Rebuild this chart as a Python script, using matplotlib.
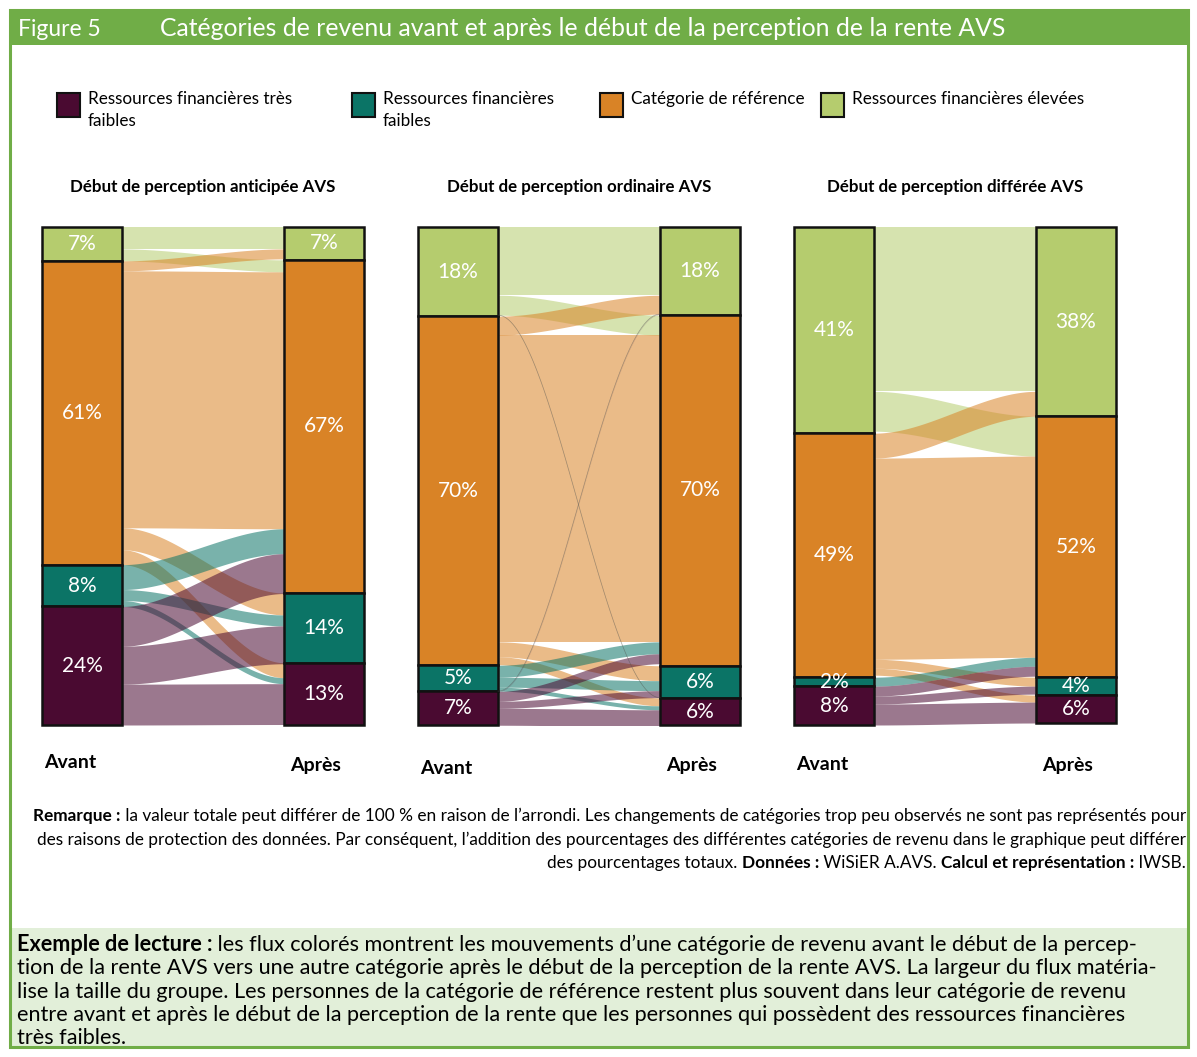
import numpy as np
import matplotlib
matplotlib.use('Agg')
import matplotlib.pyplot as plt
from matplotlib.patches import Rectangle

plt.rcParams['font.family'] = ['Lato', 'DejaVu Sans']

W, H = 1197, 1057

# categories from top to bottom of each column
categories = ['Ressources financières élevées', 'Catégorie de référence',
              'Ressources financières faibles', 'Ressources financières très faibles']
colors = ['#B5CC6E', '#D98326', '#0B7466', '#4A0A31']

panel_titles = ['Début de perception anticipée AVS',
                'Début de perception ordinaire AVS',
                'Début de perception différée AVS']

# node sizes (% of people), before / after the start of the AVS pension
nodes_before = [[6.8, 61.0, 8.4, 23.8],
                [17.9, 70.1, 5.2, 6.8],
                [41.4, 49.0, 1.8, 7.8]]
nodes_after = [[6.6, 66.9, 14.0, 12.6],
               [17.7, 70.4, 6.4, 5.6],
               [38.0, 52.4, 3.6, 5.6]]

# flows: rows = category before, columns = category after (%)
flows_anticipee = [[4.4, 2.4, 0, 0],
                   [2.0, 51.6, 4.4, 3.0],
                   [0, 5.0, 2.2, 1.2],
                   [0, 8.0, 7.6, 8.2]]
flows_ordinaire = [[13.7, 4.0, 0, 0.05],
                   [3.8, 61.6, 3.0, 1.6],
                   [0, 2.4, 2.0, 0.8],
                   [0.05, 2.0, 1.4, 3.4]]
flows_differee = [[33.0, 8.0, 0, 0],
                  [5.0, 40.4, 1.8, 1.4],
                  [0, 1.8, 0, 0],
                  [0, 2.0, 1.6, 4.2]]
all_flows = [flows_anticipee, flows_ordinaire, flows_differee]

legend_labels = ['Ressources financières très\nfaibles', 'Ressources financières\nfaibles',
                 'Catégorie de référence', 'Ressources financières élevées']
legend_colors = [colors[3], colors[2], colors[1], colors[0]]

GREEN = '#70AD47'


def fx(x):
    return x / W


def fy(y):
    return 1 - y / H


fig = plt.figure(figsize=(W / 100, H / 100), dpi=100)
renderer = fig.canvas.get_renderer()

# frame, header, bottom box
fig.add_artist(Rectangle((fx(10), fy(1047)), fx(1188) - fx(10), fy(928) - fy(1047),
                         transform=fig.transFigure, fc='#E2EFD9', ec='none'))
fig.add_artist(Rectangle((fx(10), fy(45)), fx(1188) - fx(10), fy(10) - fy(45),
                         transform=fig.transFigure, fc=GREEN, ec='none'))
fig.add_artist(Rectangle((fx(10), fy(1047)), fx(1188) - fx(10), fy(10) - fy(1047),
                         transform=fig.transFigure, fill=False, ec=GREEN, lw=2.2))
fig.text(fx(18), fy(29), 'Figure 5', color='white', fontsize=16.5, va='center')
fig.text(fx(160), fy(29), 'Catégories de revenu avant et après le début de la perception de la rente AVS',
         color='white', fontsize=17.8, va='center')

# legend
leg_x = [57, 352, 600, 821]
for lx, lab, col in zip(leg_x, legend_labels, legend_colors):
    fig.add_artist(Rectangle((fx(lx), fy(117)), fx(23), fy(93) - fy(117),
                             transform=fig.transFigure, fc=col, ec='#111111', lw=1.5))
    fig.text(fx(lx + 31), fy(91), lab, fontsize=12.3, va='top', linespacing=1.5)

# sankey panels
panel_x = [42, 418, 794]
avant_y = [763, 768, 764]
bar_w = 80
pw = 322
t = np.linspace(0, 1, 120)
s = 3 * t ** 2 - 2 * t ** 3
for p in range(3):
    ax = fig.add_axes([fx(panel_x[p]), fy(725), pw / W, 498 / H])
    ax.set_xlim(0, pw)
    ax.set_ylim(100, 0)
    ax.axis('off')
    nb = np.array(nodes_before[p])
    na = np.array(nodes_after[p])
    fl = np.array(all_flows[p], dtype=float)
    top_b = np.concatenate([[0], np.cumsum(nb)[:-1]])
    top_a = np.concatenate([[0], np.cumsum(na)[:-1]])
    x0, x1 = bar_w, pw - bar_w
    xs = x0 + t * (x1 - x0)
    for i in range(4):
        for j in range(4):
            v = fl[i, j]
            if v <= 0:
                continue
            yl = top_b[i] + fl[i, :j].sum()
            yr = top_a[j] + fl[:i, j].sum()
            yt = yl + (yr - yl) * s
            ax.fill_between(xs, yt, yt + v, color=colors[i], alpha=0.55, lw=0)
            if v < 0.2:
                ax.plot(xs, yt, color='#555555', lw=0.5, alpha=0.5)
    ax.bar(bar_w / 2, nb, bottom=top_b, width=bar_w, color=colors,
           edgecolor='#111111', lw=1.8, clip_on=False)
    ax.bar(pw - bar_w / 2, na, bottom=top_a, width=bar_w, color=colors,
           edgecolor='#111111', lw=1.8, clip_on=False)
    for k in range(4):
        ax.text(bar_w / 2, top_b[k] + nb[k] / 2, f'{nb[k]:.0f}%', color='white',
                fontsize=15, ha='center', va='center')
        ax.text(pw - bar_w / 2, top_a[k] + na[k] / 2, f'{na[k]:.0f}%', color='white',
                fontsize=15, ha='center', va='center')
    fig.text(fx(panel_x[p] + pw / 2), fy(187), panel_titles[p], fontsize=12.2,
             weight='bold', ha='center', va='center')
    fig.text(fx(panel_x[p] + bar_w / 2 - 12), fy(avant_y[p]), 'Avant', fontsize=14,
             weight='bold', ha='center', va='center')
    fig.text(fx(panel_x[p] + pw - bar_w / 2 - 8), fy(765), 'Après', fontsize=14,
             weight='bold', ha='center', va='center')


def seg_width(txt, size, weight):
    a = fig.text(0, 0, '|' + txt + '|', fontsize=size, weight=weight)
    b = fig.text(0, 0, '||', fontsize=size, weight=weight)
    w = a.get_window_extent(renderer).width - b.get_window_extent(renderer).width
    a.remove()
    b.remove()
    return w


def rich_line(x, y, parts, size, ha='left'):
    widths = [seg_width(txt, size, 'bold' if bd else 'normal') for txt, bd in parts]
    cur = x - sum(widths) if ha == 'right' else x
    for (txt, bd), w in zip(parts, widths):
        fig.text(fx(cur), fy(y), txt, fontsize=size, weight='bold' if bd else 'normal',
                 va='baseline')
        cur += w


note = [
    [('Remarque :', True), (' la valeur totale peut différer de 100 % en raison de l’arrondi. Les changements de catégories trop peu observés ne sont pas représentés pour', False)],
    [('des raisons de protection des données. Par conséquent, l’addition des pourcentages des différentes catégories de revenu dans le graphique peut différer', False)],
    [('des pourcentages totaux. ', False), ('Données :', True), (' WiSiER A.AVS. ', False),
     ('Calcul et représentation :', True), (' IWSB.', False)],
]
for k, parts in enumerate(note):
    rich_line(1186, 821 + k * 23.5, parts, 12.4, ha='right')

reading = [
    [('Exemple de lecture :', True), (' les flux colorés montrent les mouvements d’une catégorie de revenu avant le début de la percep-', False)],
    [('tion de la rente AVS vers une autre catégorie après le début de la perception de la rente AVS. La largeur du flux matéria-', False)],
    [('lise la taille du groupe. Les personnes de la catégorie de référence restent plus souvent dans leur catégorie de revenu', False)],
    [('entre avant et après le début de la perception de la rente que les personnes qui possèdent des ressources financières', False)],
    [('très faibles.', False)],
]
for k, parts in enumerate(reading):
    rich_line(17, 951 + k * 23.3, parts, 15.6)

fig.savefig('out.png', dpi=100)
